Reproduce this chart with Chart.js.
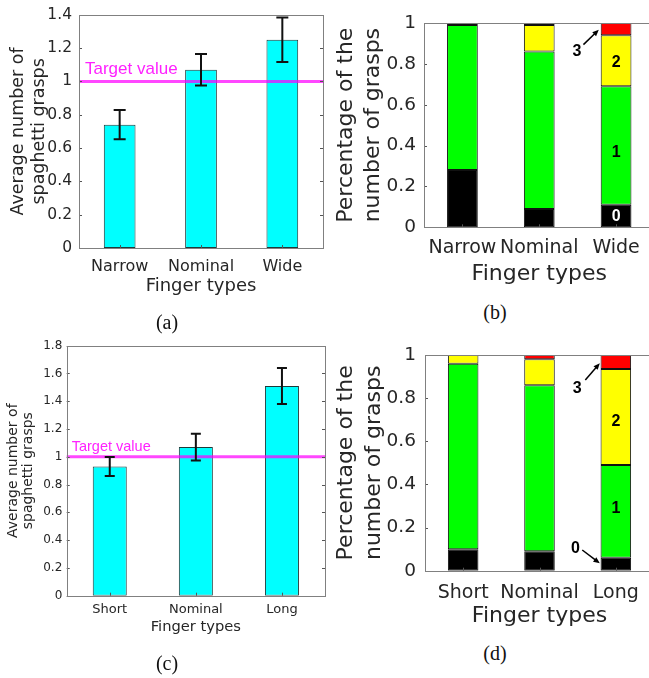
<!DOCTYPE html>
<html>
<head>
<meta charset="utf-8">
<script src="https://cdn.jsdelivr.net/npm/chart.js@4.4.1/dist/chart.umd.min.js"></script>
<style>
  body { margin: 0; width: 649px; height: 678px; overflow: hidden; background: #fff; position: relative; }
  .panel { position: absolute; }
  .cap { position: absolute; font-family: "Liberation Serif", serif; font-size: 20px; color: #111; transform: translate(-50%, -50%); }
</style>
</head>
<body>
<div class="panel" style="left:0;top:0"><canvas id="chartA" width="330" height="300"></canvas></div>
<div class="panel" style="left:330px;top:0"><canvas id="chartB" width="330" height="300"></canvas></div>
<div class="panel" style="left:0;top:330px"><canvas id="chartC" width="330" height="310"></canvas></div>
<div class="panel" style="left:330px;top:330px"><canvas id="chartD" width="330" height="310"></canvas></div>
<div class="cap" style="left:167px;top:322px">(a)</div>
<div class="cap" style="left:495px;top:312px">(b)</div>
<div class="cap" style="left:167px;top:663px">(c)</div>
<div class="cap" style="left:495px;top:653px">(d)</div>
<script>
// --- data ---
const catsA = ['Narrow', 'Nominal', 'Wide'];
const meanA = [0.74, 1.07, 1.25];
const errA = [0.088, 0.095, 0.133];
const yTicksA = [0, 0.2, 0.4, 0.6, 0.8, 1, 1.2, 1.4];

const catsC = ['Short', 'Nominal', 'Long'];
const meanC = [0.93, 1.07, 1.51];
const errC = [0.068, 0.096, 0.13];
const yTicksC = [0, 0.2, 0.4, 0.6, 0.8, 1, 1.2, 1.4, 1.6, 1.8];

const targetValue = 1;

// ratio of trials with 0 / 1 / 2 / 3 spaghetti grasped
const grasp0B = [0.28, 0.09, 0.11];
const grasp1B = [0.71, 0.77, 0.58];
const grasp2B = [0.01, 0.13, 0.25];
const grasp3B = [0, 0.01, 0.06];

const grasp0D = [0.10, 0.09, 0.06];
const grasp1D = [0.86, 0.77, 0.43];
const grasp2D = [0.04, 0.12, 0.445];
const grasp3D = [0, 0.02, 0.065];

const yTicksPct = [0, 0.2, 0.4, 0.6, 0.8, 1];

const textCol = '#262626';
const dv = 'DejaVu Sans';

// frame, inner ticks, target line, error bars, labels
const deco = {
  id: 'deco',
  afterDatasetsDraw(chart, args, opts) {
    const ctx = chart.ctx;
    const a = chart.chartArea;
    const x = chart.scales.x, y = chart.scales.y;
    ctx.save();

    if (opts.target !== undefined) {
      const py = y.getPixelForValue(opts.target);
      ctx.strokeStyle = 'rgba(255,0,255,0.72)';
      ctx.lineWidth = 3;
      ctx.beginPath(); ctx.moveTo(a.left, py); ctx.lineTo(a.right, py); ctx.stroke();
      ctx.fillStyle = '#ff22ff';
      ctx.font = opts.targetFont;
      ctx.textAlign = 'left';
      ctx.textBaseline = 'alphabetic';
      ctx.fillText('Target value', a.left + opts.targetDx, py - opts.targetDy);
    }

    if (opts.errors) {
      const means = chart.data.datasets[0].data;
      ctx.strokeStyle = '#111';
      ctx.lineWidth = 2;
      means.forEach((m, i) => {
        const cx = x.getPixelForValue(i);
        const t = y.getPixelForValue(m + opts.errors[i]);
        const b = y.getPixelForValue(m - opts.errors[i]);
        const w = opts.capW;
        ctx.beginPath();
        ctx.moveTo(cx, t); ctx.lineTo(cx, b);
        ctx.moveTo(cx - w, t); ctx.lineTo(cx + w, t);
        ctx.moveTo(cx - w, b); ctx.lineTo(cx + w, b);
        ctx.stroke();
      });
    }

    (opts.labels || []).forEach(l => {
      ctx.fillStyle = l.color || '#000';
      ctx.font = 'bold 16px "Liberation Sans"';
      ctx.textAlign = 'center';
      ctx.textBaseline = 'middle';
      ctx.fillText(l.text, x.getPixelForValue(l.x), y.getPixelForValue(l.y));
    });

    (opts.arrows || []).forEach(r => {
      const x0 = x.getPixelForValue(r.x0), y0 = y.getPixelForValue(r.y0);
      const x1 = x.getPixelForValue(r.x1), y1 = y.getPixelForValue(r.y1);
      const ang = Math.atan2(y1 - y0, x1 - x0);
      ctx.strokeStyle = '#000';
      ctx.fillStyle = '#000';
      ctx.lineWidth = 1.5;
      ctx.beginPath(); ctx.moveTo(x0, y0); ctx.lineTo(x1 - 4 * Math.cos(ang), y1 - 4 * Math.sin(ang)); ctx.stroke();
      ctx.beginPath();
      ctx.moveTo(x1, y1);
      ctx.lineTo(x1 - 7 * Math.cos(ang - 0.4), y1 - 7 * Math.sin(ang - 0.4));
      ctx.lineTo(x1 - 7 * Math.cos(ang + 0.4), y1 - 7 * Math.sin(ang + 0.4));
      ctx.closePath(); ctx.fill();
    });

    // box with matlab style ticks inside
    ctx.strokeStyle = '#555';
    ctx.lineWidth = 1;
    y.ticks.forEach(t => {
      const py = Math.round(y.getPixelForValue(t.value)) + 0.5;
      ctx.beginPath();
      ctx.moveTo(a.left, py); ctx.lineTo(a.left + 3, py);
      ctx.moveTo(a.right, py); ctx.lineTo(a.right - 3, py);
      ctx.stroke();
    });
    x.ticks.forEach((t, i) => {
      const px = Math.round(x.getPixelForValue(i)) + 0.5;
      ctx.beginPath(); ctx.moveTo(px, a.bottom); ctx.lineTo(px, a.bottom - 3); ctx.stroke();
    });
    ctx.strokeStyle = '#808080';
    ctx.strokeRect(Math.round(a.left) + 0.5, Math.round(a.top) + 0.5,
      Math.round(a.right - a.left), Math.round(a.bottom - a.top));
    ctx.restore();
  }
};

function makeScales(o) {
  return {
    x: {
      stacked: o.stacked,
      grid: { display: false, drawTicks: false },
      border: { display: false },
      ticks: { color: textCol, font: { family: dv, size: o.xFont }, padding: o.xPad, maxRotation: 0, autoSkip: false },
      title: { display: true, text: 'Finger types', color: textCol, font: { family: dv, size: o.xTitleFont }, padding: { top: 0, bottom: o.xTitlePad } },
      afterFit: s => { s.height = o.xH; }
    },
    y: {
      stacked: o.stacked,
      min: 0,
      max: o.yTicks[o.yTicks.length - 1],
      grid: { display: false, drawTicks: false },
      border: { display: false },
      afterBuildTicks: s => { s.ticks = o.yTicks.map(v => ({ value: v })); },
      ticks: {
        color: textCol,
        font: { family: dv, size: o.yFont, lineHeight: 1 },
        padding: o.yPad,
        callback: v => String(v)
      },
      title: { display: true, text: o.yTitle, color: textCol, font: { family: dv, size: o.yTitleFont, lineHeight: o.yTitleLH }, padding: { top: o.yTitlePad, bottom: 0 } },
      afterFit: s => { s.width = o.yW; }
    }
  };
}

function meanChart(id, cats, means, errs, yTicks, lay) {
  new Chart(document.getElementById(id), {
    type: 'bar',
    data: {
      labels: cats,
      datasets: [{
        data: means,
        backgroundColor: '#00ffff',
        borderColor: '#1d3a3a',
        borderWidth: 1,
        borderSkipped: false,
        barPercentage: lay.barPct,
        categoryPercentage: 1
      }]
    },
    options: {
      responsive: false,
      animation: false,
      layout: { padding: lay.padding },
      plugins: {
        legend: { display: false },
        tooltip: { enabled: false },
        deco: { target: targetValue, targetFont: lay.targetFont, targetDx: lay.targetDx, targetDy: lay.targetDy, errors: errs, capW: lay.capW }
      },
      scales: makeScales(Object.assign({ stacked: false, yTicks: yTicks, yTitle: ['Average number of', 'spaghetti grasps'] }, lay))
    },
    plugins: [deco]
  });
}

function stackChart(id, cats, g0, g1, g2, g3, lay) {
  const ds = (d, c) => ({ data: d, backgroundColor: c, borderColor: '#111', borderWidth: 1, borderSkipped: false, barPercentage: 0.4, categoryPercentage: 1 });
  new Chart(document.getElementById(id), {
    type: 'bar',
    data: { labels: cats, datasets: [ds(g0, '#000000'), ds(g1, '#00ff00'), ds(g2, '#ffff00'), ds(g3, '#ff0000')] },
    options: {
      responsive: false,
      animation: false,
      layout: { padding: lay.padding },
      plugins: {
        legend: { display: false },
        tooltip: { enabled: false },
        deco: { labels: lay.labels, arrows: lay.arrows }
      },
      scales: makeScales(Object.assign({ stacked: true, yTicks: yTicksPct, yTitle: ['Percentage of the', 'number of grasps'] }, lay))
    },
    plugins: [deco]
  });
}

meanChart('chartA', catsA, meanA, errA, yTicksA, {
  padding: { left: 0, top: 9, right: 7, bottom: 0 },
  barPct: 0.39, capW: 6,
  targetFont: '17px "Liberation Sans"', targetDx: 6, targetDy: 7,
  xFont: 16, xPad: 9, xTitleFont: 18, xTitlePad: 2.5, xH: 52,
  yFont: 15.5, yPad: 7, yTitleFont: 17.5, yTitleLH: 1.2, yTitlePad: 7.5, yW: 79
});

stackChart('chartB', catsA, grasp0B, grasp1B, grasp2B, grasp3B, {
  padding: { left: 0, top: 23, right: 5.5, bottom: 0 },
  xFont: 19, xPad: 9.3, xTitleFont: 22, xTitlePad: 12.8, xH: 72.7,
  yFont: 18.5, yPad: 8, yTitleFont: 22, yTitleLH: 1.2, yTitlePad: 3.5, yW: 94,
  labels: [
    { text: '0', x: 2, y: 0.052, color: '#fff' },
    { text: '1', x: 2, y: 0.364 },
    { text: '2', x: 2, y: 0.805 },
    { text: '3', x: 1.49, y: 0.86 }
  ],
  arrows: [{ x0: 1.575, y0: 0.894, x1: 1.775, y1: 0.967 }]
});

meanChart('chartC', catsC, meanC, errC, yTicksC, {
  padding: { left: 0, top: 15.7, right: 5, bottom: 0 },
  barPct: 0.395, capW: 5,
  targetFont: '14.5px "Liberation Sans"', targetDx: 5, targetDy: 5.5,
  xFont: 13, xPad: 5.8, xTitleFont: 14.7, xTitlePad: 4.3, xH: 44.3,
  yFont: 12, yPad: 4.4, yTitleFont: 14, yTitleLH: 1.07, yTitlePad: 5.9, yW: 66.7
});

stackChart('chartD', catsC, grasp0D, grasp1D, grasp2D, grasp3D, {
  padding: { left: 0, top: 25, right: 6, bottom: 0 },
  xFont: 19, xPad: 11.2, xTitleFont: 22, xTitlePad: 10.1, xH: 69.3,
  yFont: 18.5, yPad: 9, yTitleFont: 22, yTitleLH: 1.27, yTitlePad: 2.7, yW: 95,
  labels: [
    { text: '1', x: 2, y: 0.286 },
    { text: '2', x: 2, y: 0.69 },
    { text: '3', x: 1.494, y: 0.846 },
    { text: '0', x: 1.47, y: 0.104 }
  ],
  arrows: [
    { x0: 1.6, y0: 0.884, x1: 1.79, y1: 0.962 },
    { x0: 1.56, y0: 0.096, x1: 1.79, y1: 0.034 }
  ]
});
</script>
</body>
</html>
